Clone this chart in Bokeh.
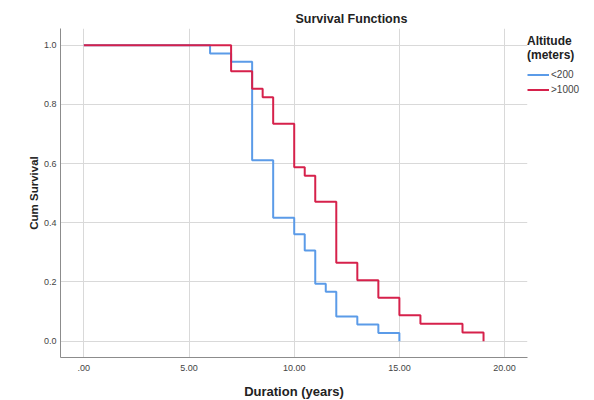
from bokeh.plotting import figure
from bokeh.models import Range1d, Legend, LegendItem, Title, FixedTicker
from bokeh.embed import file_html
from bokeh.resources import INLINE

# Kaplan-Meier survival estimates
t_low = [0, 6, 7, 8, 9, 10, 10.5, 11, 11.5, 12, 13, 14, 15]
s_low = [1.0, 0.972, 0.944, 0.611, 0.417, 0.361, 0.306, 0.194, 0.167, 0.083, 0.056, 0.028, 0.0]

t_high = [0, 7, 8, 8.5, 9, 10, 10.5, 11, 12, 13, 14, 15, 16, 18, 19]
s_high = [1.0, 0.912, 0.853, 0.824, 0.735, 0.588, 0.559, 0.471, 0.265, 0.206, 0.147, 0.088, 0.059, 0.029, 0.0]

series_labels = ["<200", ">1000"]
x_ticks = [0, 5, 10, 15, 20]
x_tick_labels = [".00", "5.00", "10.00", "15.00", "20.00"]
y_ticks = [0.0, 0.2, 0.4, 0.6, 0.8, 1.0]
y_tick_labels = ["0.0", "0.2", "0.4", "0.6", "0.8", "1.0"]

FONT = "Liberation Sans"
BLUE = "#5b9be8"
RED = "#d6214b"

p = figure(frame_width=467, frame_height=329, output_backend="svg", toolbar_location=None,
           x_range=Range1d(-1.11, 21.09), y_range=Range1d(-0.0551, 1.0564),
           min_border_left=60, min_border_top=28, min_border_bottom=43, min_border_right=0)

p.outline_line_color = None
p.background_fill_color = "white"

t = Title(text="Survival Functions", align="left", offset=235, text_font=FONT,
          text_font_size="12.5px", text_font_style="bold", text_color="#222222", standoff=5)
p.title = t

r_low = p.step(t_low, s_low, mode="after", line_color=BLUE, line_width=2)
r_high = p.step(t_high, s_high, mode="after", line_color=RED, line_width=2)

for ax in (p.xaxis[0], p.yaxis[0]):
    ax.axis_line_color = "#8c8c8c"
    ax.axis_line_width = 1
    ax.major_tick_line_color = None
    ax.minor_tick_line_color = None
    ax.major_tick_out = 0
    ax.major_tick_in = 0
    ax.minor_tick_out = 0
    ax.minor_tick_in = 0
    ax.major_label_text_font = FONT
    ax.major_label_text_font_size = "9px"
    ax.major_label_text_color = "#444444"
    ax.axis_label_text_font = FONT
    ax.axis_label_text_font_style = "bold"
    ax.axis_label_text_color = "#222222"

p.xaxis.ticker = FixedTicker(ticks=x_ticks)
p.xaxis.major_label_overrides = {k: v for k, v in zip(x_ticks, x_tick_labels)}
p.yaxis.ticker = FixedTicker(ticks=y_ticks)
p.yaxis.major_label_overrides = {k: v for k, v in zip(y_ticks, y_tick_labels)}

p.xaxis.axis_label = "Duration (years)"
p.xaxis.axis_label_text_font_size = "13px"
p.xaxis.major_label_standoff = 7
p.xaxis.axis_label_standoff = 10

p.yaxis.axis_label = "Cum Survival"
p.yaxis.axis_label_text_font_size = "11.5px"
p.yaxis.major_label_standoff = 4
p.yaxis.axis_label_standoff = 1

p.xgrid.grid_line_color = "#d9d9d9"
p.ygrid.grid_line_color = "#d9d9d9"
p.xgrid.ticker = FixedTicker(ticks=x_ticks)
p.ygrid.ticker = FixedTicker(ticks=y_ticks)

legend = Legend(items=[LegendItem(label=series_labels[0], renderers=[r_low]),
                       LegendItem(label=series_labels[1], renderers=[r_high])],
                title="Altitude\n(meters)", location=(0, 260))
legend.margin = 0
legend.padding = 4
legend.border_line_color = None
legend.background_fill_alpha = 0
legend.title_text_font = FONT
legend.title_text_font_size = "12px"
legend.title_text_font_style = "bold"
legend.title_text_color = "#222222"
legend.title_standoff = 5
legend.label_text_font = FONT
legend.label_text_font_size = "10px"
legend.label_text_color = "#444444"
legend.glyph_width = 22
legend.glyph_height = 15
legend.label_height = 15
legend.label_standoff = 2
legend.spacing = 0
p.add_layout(legend, "right")

open("out.html", "w").write(file_html(p, INLINE))
